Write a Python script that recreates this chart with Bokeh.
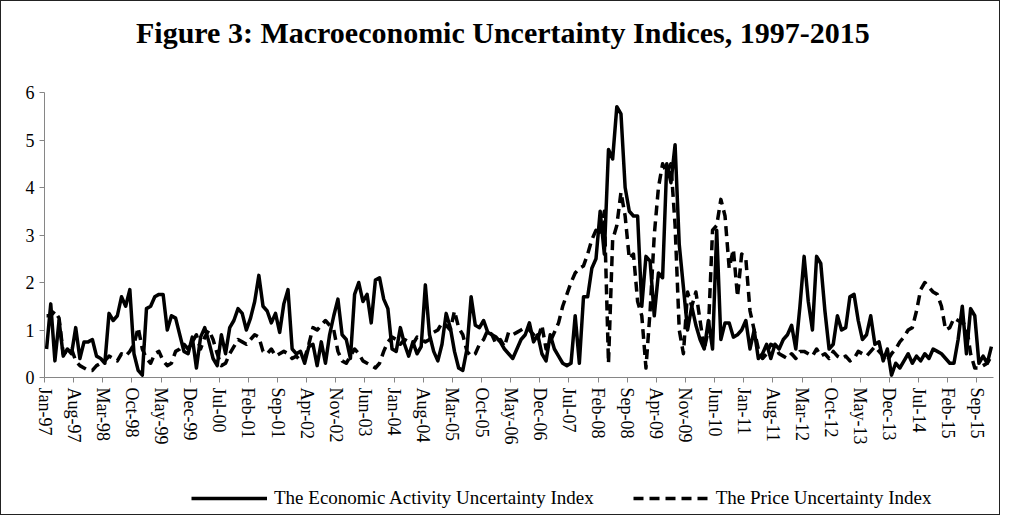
from bokeh.plotting import figure
from bokeh.layouts import column
from bokeh.models import Legend, LegendItem, FixedTicker, Range1d
from bokeh.core.properties import value
from bokeh.embed import file_html
from bokeh.resources import INLINE

title_text = "Figure 3: Macroeconomic Uncertainty Indices, 1997-2015"

tick_labels = ["Jan-97", "Aug-97", "Mar-98", "Oct-98", "May-99", "Dec-99", "Jul-00",
               "Feb-01", "Sep-01", "Apr-02", "Nov-02", "Jun-03", "Jan-04", "Aug-04",
               "Mar-05", "Oct-05", "May-06", "Dec-06", "Jul-07", "Feb-08", "Sep-08",
               "Apr-09", "Nov-09", "Jun-10", "Jan-11", "Aug-11", "Mar-12", "Oct-12",
               "May-13", "Dec-13", "Jul-14", "Feb-15", "Sep-15"]

economic_activity = [
    0.6, 1.55, 0.35, 1.2, 0.45, 0.6, 0.5, 1.05, 0.4, 0.75,
    0.75, 0.8, 0.45, 0.4, 0.3, 1.35, 1.2, 1.3, 1.7, 1.5,
    1.85, 0.5, 0.15, 0.05, 1.45, 1.5, 1.7, 1.75, 1.75, 1.0,
    1.3, 1.25, 0.9, 0.55, 0.5, 0.85, 0.2, 0.85, 1.05, 0.75,
    0.4, 0.25, 0.9, 0.5, 1.05, 1.2, 1.45, 1.35, 1.0, 1.25,
    1.6, 2.15, 1.5, 1.4, 1.15, 1.35, 0.95, 1.55, 1.85, 0.6,
    0.5, 0.55, 0.3, 0.65, 0.7, 0.25, 0.75, 0.3, 0.9, 1.3,
    1.65, 0.9, 0.8, 0.4, 1.75, 2.0, 1.6, 1.75, 1.15, 2.05,
    2.1, 1.65, 1.45, 0.6, 0.55, 1.05, 0.7, 0.45, 0.75, 0.5,
    0.65, 1.95, 0.9, 0.55, 0.35, 0.7, 1.35, 1.05, 0.55, 0.2,
    0.15, 0.6, 1.7, 1.1, 1.05, 1.2, 0.95, 0.9, 0.85, 0.75,
    0.6, 0.5, 0.4, 0.6, 0.8, 0.9, 1.15, 0.75, 0.9, 0.5,
    0.35, 0.9, 0.6, 0.45, 0.3, 0.25, 0.3, 1.3, 0.3, 1.7,
    1.7, 2.3, 2.5, 3.5, 2.6, 4.8, 4.6, 5.7, 5.55, 4.0,
    3.5, 3.4, 3.4, 1.5, 2.55, 2.45, 1.3, 2.2, 2.1, 4.5,
    4.1, 4.9, 2.8, 1.9, 1.0, 1.5, 1.1, 0.8, 0.6, 1.2,
    0.6, 3.1, 0.8, 1.15, 1.15, 0.85, 0.9, 1.0, 1.2, 0.6,
    1.0, 0.4, 0.5, 0.7, 0.4, 0.7, 0.6, 0.8, 0.9, 1.1,
    0.6, 1.5, 2.55, 1.6, 1.0, 2.55, 2.4, 1.4, 0.6, 0.7,
    1.3, 1.0, 1.05, 1.7, 1.75, 1.2, 0.8, 0.9, 1.3, 0.7,
    0.75, 0.35, 0.6, 0.05, 0.3, 0.2, 0.35, 0.5, 0.3, 0.45,
    0.35, 0.5, 0.4, 0.6, 0.55, 0.5, 0.4, 0.3, 0.3, 0.8,
    1.5, 0.5, 1.45, 1.3, 0.3, 0.45, 0.3, 0.65,
]

price = [
    1.3, 1.3, 1.4, 1.25, 0.5, 0.55, 0.6, 0.35, 0.25, 0.2,
    0.15, 0.15, 0.25, 0.3, 0.35, 0.45, 0.4, 0.35, 0.5, 0.45,
    0.55, 0.7, 1.05, 0.6, 0.4, 0.3, 0.5, 0.55, 0.35, 0.25,
    0.3, 0.55, 0.6, 0.7, 0.6, 0.75, 0.9, 0.6, 0.85, 1.0,
    0.8, 0.5, 0.25, 0.3, 0.5, 0.65, 0.8, 0.75, 0.7, 0.8,
    0.9, 0.85, 0.55, 0.5, 0.6, 0.45, 0.5, 0.55, 0.5, 0.4,
    0.45, 0.35, 0.4, 0.7, 1.05, 1.0, 1.1, 1.2, 1.1, 1.0,
    0.55, 0.35, 0.3, 0.45, 0.6, 0.5, 0.35, 0.3, 0.25, 0.2,
    0.3, 0.55, 0.75, 0.85, 0.8, 0.7, 0.8, 0.75, 0.7, 0.85,
    0.8, 0.75, 0.8, 0.95, 1.0, 1.15, 1.1, 1.0, 1.4, 1.05,
    0.9, 0.55, 0.45, 0.5, 0.7, 0.8, 1.0, 0.9, 0.7, 0.8,
    0.65, 0.95, 0.9, 0.95, 1.0, 1.05, 1.0, 0.9, 0.8, 1.1,
    0.6, 0.75, 0.95, 1.15, 1.5, 1.75, 2.0, 2.2, 2.3, 2.35,
    2.6, 2.9, 3.1, 3.0, 3.5, 0.3, 2.9, 3.2, 3.9, 3.4,
    2.5, 2.6, 1.6, 1.3, 0.2, 1.4, 3.0, 4.0, 4.5, 4.3,
    4.5, 3.2, 1.0, 0.5, 1.8, 1.5, 1.8, 1.2, 0.6, 1.0,
    3.1, 3.2, 3.75, 3.4, 2.3, 2.7, 1.7, 2.6, 2.5, 1.4,
    1.0, 0.6, 0.4, 0.5, 0.7, 0.65, 0.5, 0.45, 0.4, 0.5,
    0.4, 0.55, 0.55, 0.5, 0.45, 0.6, 0.45, 0.5, 0.4, 0.55,
    0.45, 0.4, 0.45, 0.35, 0.4, 0.55, 0.5, 0.45, 0.55, 0.65,
    0.55, 0.45, 0.35, 0.5, 0.6, 0.75, 0.85, 1.0, 1.05, 1.4,
    1.85, 2.0, 1.9, 1.8, 1.75, 1.5, 1.0, 1.05, 1.25, 1.2,
    1.15, 1.1, 0.5, 0.2, 0.2, 0.25, 0.3, 0.45,
]

series_names = ["The Economic Activity Uncertainty Index", "The Price Uncertainty Index"]

n = len(economic_activity)
months = [i + 0.5 for i in range(n)]
tick_pos = list(range(0, n, 7))[:len(tick_labels)]

SERIF = "Liberation Serif"
DASH = "10 6"
W = 998

# title strip
tf = figure(width=W, height=60, output_backend="svg", toolbar_location=None, title=None,
            x_range=Range1d(0, 1), y_range=Range1d(0, 1),
            x_axis_location=None, y_axis_location=None,
            min_border_left=43, min_border_right=6, min_border_top=0, min_border_bottom=0)
tf.outline_line_color = None
tf.grid.visible = False
tf.text(x=[0.483], y=[0.48], text=[title_text], text_align="center", text_baseline="middle",
        text_font=value(SERIF), text_font_style="bold", text_font_size="30px",
        text_color="black")

# main chart
p = figure(width=W, height=408, output_backend="svg", toolbar_location=None, title=None,
           x_range=Range1d(0, n), y_range=Range1d(0, 6),
           min_border_left=43, min_border_right=6, min_border_top=31,
           min_border_bottom=92)
p.outline_line_color = None
p.xgrid.visible = False
p.ygrid.visible = False

p.xaxis.ticker = FixedTicker(ticks=tick_pos)
p.xaxis.major_label_overrides = {t: lab for t, lab in zip(tick_pos, tick_labels)}
p.xaxis.major_label_orientation = "vertical"
p.yaxis.ticker = FixedTicker(ticks=[0, 1, 2, 3, 4, 5, 6])
for ax in (p.xaxis[0], p.yaxis[0]):
    ax.axis_line_color = "#868686"
    ax.major_tick_line_color = "#868686"
    ax.major_tick_out = 5
    ax.major_tick_in = 0
    ax.minor_tick_line_color = None
    ax.major_label_text_font = SERIF
    ax.major_label_text_color = "black"
p.xaxis.major_label_text_font_size = "18px"
p.yaxis.major_label_text_font_size = "18px"

p.line(months, economic_activity, line_color="black", line_width=3.5, line_join="round")
p.line(months, price, line_color="black", line_width=3.5, line_dash=DASH, line_join="round")

# legend strip below the chart (same styles as the series)
lg = figure(width=W, height=45, output_backend="svg", toolbar_location=None, title=None,
            x_range=Range1d(0, 1), y_range=Range1d(0, 1),
            x_axis_location=None, y_axis_location=None,
            min_border_left=43, min_border_right=6, min_border_top=0, min_border_bottom=0)
lg.outline_line_color = None
lg.grid.visible = False
k1 = lg.line([-5, -4], [-5, -5], line_color="black", line_width=3.5)
k2 = lg.line([-5, -4], [-5, -5], line_color="black", line_width=3.5, line_dash=DASH)
legend = Legend(items=[LegendItem(label=series_names[0], renderers=[k1]),
                       LegendItem(label=series_names[1], renderers=[k2])],
                orientation="horizontal", location=(147, 5),
                border_line_color=None, background_fill_alpha=0,
                label_text_font=SERIF, label_text_font_size="19px",
                label_text_color="black", label_standoff=7,
                glyph_width=76, spacing=39, padding=0, margin=0)
lg.add_layout(legend, "center")

layout = column(tf, p, lg, styles={"border": "1px solid #222"})

open("out.html", "w").write(file_html(layout, INLINE))
